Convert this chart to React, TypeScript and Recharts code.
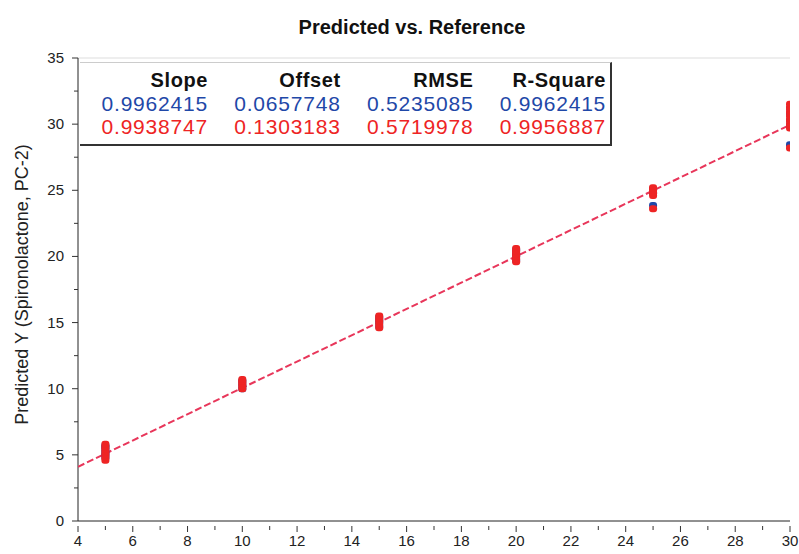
import { Scatter, ScatterChart, XAxis, YAxis, ReferenceLine } from "recharts";

// reference levels (x) and predicted values
const calX = [5, 5, 5, 5, 5, 5, 10, 10, 10, 10, 15, 15, 15, 15, 20, 20, 20, 20, 25, 25, 25, 30, 30, 30, 30, 30];
const calY = [4.8, 5.0, 5.2, 5.4, 5.6, 5.7, 10.0, 10.2, 10.4, 10.6, 14.7, 15.0, 15.2, 15.4, 19.7, 20.0, 20.2, 20.5, 23.85, 24.8, 25.1, 28.45, 29.9, 30.3, 30.8, 31.2];
const valX = [5, 5, 5, 5, 5, 5, 5, 10, 10, 10, 10, 10, 15, 15, 15, 15, 15, 20, 20, 20, 20, 20, 20, 25, 25, 25, 25, 25, 30, 30, 30, 30, 30, 30, 30, 30];
const valY = [4.6, 4.8, 5.0, 5.2, 5.4, 5.6, 5.8, 10.0, 10.2, 10.4, 10.55, 10.7, 14.6, 14.85, 15.1, 15.3, 15.5, 19.6, 19.8, 20.0, 20.2, 20.4, 20.6, 23.6, 24.6, 24.8, 25.0, 25.2, 28.2, 29.7, 30.0, 30.3, 30.6, 30.9, 31.2, 31.5];
const fitX = [4, 30];
const fitY = [4.1, 29.95];

const xTicks = [4, 5, 6, 7, 8, 9, 10, 11, 12, 13, 14, 15, 16, 17, 18, 19, 20, 21, 22, 23, 24, 25, 26, 27, 28, 29, 30];
const yTicks = [0, 2.5, 5, 7.5, 10, 12.5, 15, 17.5, 20, 22.5, 25, 27.5, 30, 32.5, 35];

const statHeaders = ["Slope", "Offset", "RMSE", "R-Square"];
const calStats = ["0.9962415", "0.0657748", "0.5235085", "0.9962415"];
const valStats = ["0.9938747", "0.1303183", "0.5719978", "0.9956887"];

const calData = calX.map((x, i) => ({ x, y: calY[i] }));
const valData = valX.map((x, i) => ({ x, y: valY[i] }));
const fitData = fitX.map((x, i) => ({ x, y: fitY[i] }));

const BLUE = "#1f48a8";
const RED = "#ee2424";
const FONT = "'Liberation Sans', Arial, sans-serif";

function XTick(props: any) {
  const { x, y, payload } = props;
  const major = payload.value % 2 === 0;
  return (
    <g>
      <line x1={x} x2={x} y1={y - 3} y2={y + (major ? 3 : 1)} stroke="#333" />
      {major && (
        <text x={x} y={y + 17} textAnchor="middle" fontSize={15} fill="#222" fontFamily={FONT}>
          {payload.value}
        </text>
      )}
    </g>
  );
}

function YTick(props: any) {
  const { x, y, payload } = props;
  const major = payload.value % 5 === 0;
  return (
    <g>
      <line x1={x + (major ? 2 : 4)} x2={x + 8} y1={y} y2={y} stroke="#333" />
      {major && (
        <text x={x - 6} y={y + 5} textAnchor="end" fontSize={15} fill="#222" fontFamily={FONT}>
          {payload.value}
        </text>
      )}
    </g>
  );
}

function Dot(color: string) {
  return (props: any) => (
    <rect x={props.cx - 4} y={props.cy - 3.5} width={8} height={7} rx={3} fill={color} />
  );
}

export default function App() {
  return (
    <div style={{ position: "absolute", left: 0, top: 0, width: 799, height: 554, background: "#fff", fontFamily: FONT }}>
      <div style={{ position: "absolute", left: 0, top: 16, width: 824, textAlign: "center", fontSize: 20, fontWeight: "bold", color: "#111" }}>
        Predicted vs. Reference
      </div>
      <ScatterChart width={799} height={554} margin={{ top: 58, right: 9, bottom: 8, left: 38 }}>
        <XAxis
          type="number"
          dataKey="x"
          domain={[4, 30]}
          ticks={xTicks}
          interval={0}
          allowDataOverflow
          stroke="#222"
          tickLine={false}
          tick={<XTick />}
          height={25}
        />
        <YAxis
          type="number"
          dataKey="y"
          domain={[0, 35]}
          ticks={yTicks}
          interval={0}
          allowDataOverflow
          stroke="#222"
          tickLine={false}
          tick={<YTick />}
          width={40}
          label={{
            value: "Predicted Y (Spironolactone, PC-2)",
            angle: -90,
            position: "insideLeft",
            offset: -16,
            dy: -5,
            style: { fontSize: 18, fill: "#222", fontFamily: FONT, textAnchor: "middle" },
          }}
        />
        <ReferenceLine y={35} stroke="#ddd" ifOverflow="extendDomain" />
        <Scatter
          data={fitData}
          line={{ stroke: "#e8365a", strokeWidth: 2, strokeDasharray: "7 3" }}
          shape={() => <g />}
          isAnimationActive={false}
        />
        <Scatter data={calData} shape={Dot(BLUE)} isAnimationActive={false} />
        <Scatter data={valData} shape={Dot(RED)} isAnimationActive={false} />
      </ScatterChart>
      <div
        style={{
          position: "absolute",
          left: 80,
          top: 62,
          width: 532,
          height: 84,
          background: "#fff",
          borderTop: "1px solid #ccc",
          borderRight: "2px solid #333",
          borderBottom: "2px solid #333",
          boxSizing: "border-box",
        }}
      >
        {[statHeaders, calStats, valStats].map((row, r) => (
          <div key={r} style={{ position: "absolute", top: 6 + r * 23, left: 0, height: 24 }}>
            {row.map((cell, c) => (
              <div
                key={c}
                style={{
                  position: "absolute",
                  left: 128 - 120 + c * 132.7,
                  width: 120,
                  textAlign: "right",
                  fontSize: r === 0 ? 20 : 21,
                  fontWeight: r === 0 ? "bold" : "normal",
                  letterSpacing: r === 0 ? 0.6 : 0.8,
                  color: r === 0 ? "#111" : r === 1 ? BLUE : RED,
                  whiteSpace: "nowrap",
                }}
              >
                {cell}
              </div>
            ))}
          </div>
        ))}
      </div>
    </div>
  );
}
